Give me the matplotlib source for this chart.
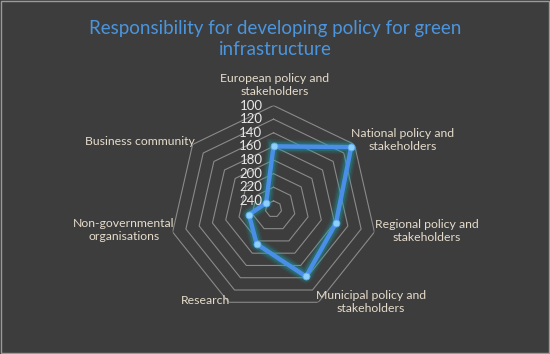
import numpy as np
import matplotlib
matplotlib.use("Agg")
import matplotlib.pyplot as plt

categories = ["European policy and\nstakeholders", "National policy and\nstakeholders",
              "Regional policy and\nstakeholders", "Municipal policy and\nstakeholders",
              "Research", "Non-governmental\norganisations", "Business community"]
values = [160, 106, 158, 142, 195, 215, 238]
ring_values = [100, 120, 140, 160, 180, 200, 220, 240]
r_outer, r_center = 100, 252
title = "Responsibility for developing policy for green\ninfrastructure"

plt.rcParams['font.family'] = ['Lato', 'DejaVu Sans']
BG = '#3d3d3d'
W, H = 550, 354
fig = plt.figure(figsize=(5.5, 3.54), dpi=100, facecolor=BG)
fig.patches.append(plt.Rectangle((0.002, 0.003), 0.996, 0.994, transform=fig.transFigure,
                                 fill=False, edgecolor='#9a9a9a', linewidth=1.0))

ax = fig.add_axes([0.3091, 0.1172, 0.3764, 0.5847], projection='polar')
ax.set_facecolor('none')
ax.set_theta_zero_location('N')
ax.set_theta_direction(-1)
ax.set_ylim(r_center, r_outer)
ax.grid(False)
ax.spines['polar'].set_visible(False)
ax.set_xticks([])
ax.set_yticks([])

n = len(categories)
theta = np.linspace(0, 2 * np.pi, n, endpoint=False)
theta_c = np.append(theta, theta[0])

for rv in ring_values:
    ax.plot(theta_c, [rv] * (n + 1), color='#8a8a8a', lw=0.8, zorder=1)

vals_c = values + values[:1]
for w, a in [(10, 0.10), (8, 0.15), (6, 0.28)]:
    ax.plot(theta_c, vals_c, color='#17a3a8', lw=w, alpha=a, solid_joinstyle='round', zorder=3)
ax.plot(theta_c, vals_c, color='#4a8ee8', lw=3.2, solid_joinstyle='round', zorder=4)
ax.plot(theta, values, 'o', color='#8fd0fa', ms=5, mec='#5aa8f0', mew=0.6, zorder=5)

# radial labels
for rv in ring_values:
    ax.annotate(str(rv), xy=(0, rv), xytext=(-8, 0), textcoords='offset points',
                ha='right', va='center', color='#e8e8e8', fontsize=9.5, zorder=6,
                annotation_clip=False)

# category labels (pixel positions from top-left)
label_pos = [(275, 85), (403, 140), (427, 231), (371, 302), (205, 301), (124, 230), (140, 141)]
for lab, (x, y) in zip(categories, label_pos):
    fig.text(x / W, 1 - y / H, lab, ha='center', va='center', color='#e6dccb',
             fontsize=8.8, linespacing=1.25)

fig.text(275 / W, 1 - 39 / H, title, ha='center', va='center', color='#4b95de',
         fontsize=13.5, linespacing=1.35)

fig.savefig('out.png', dpi=100, facecolor=BG)
